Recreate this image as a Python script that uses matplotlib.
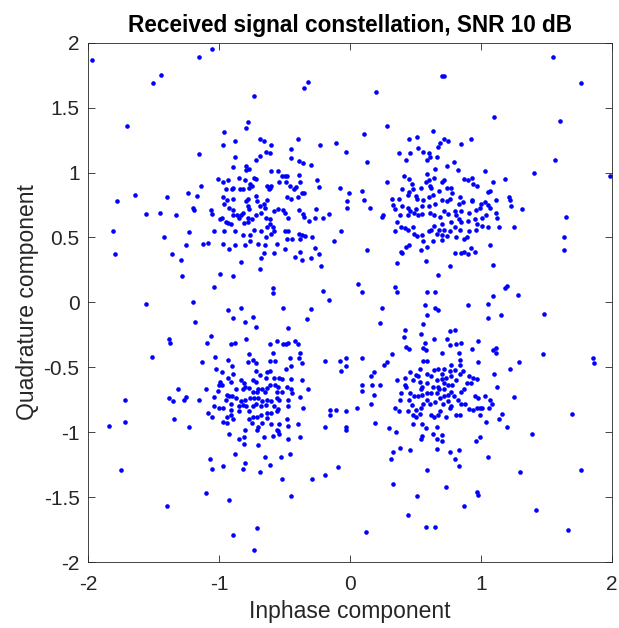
import matplotlib
matplotlib.use("Agg")
import matplotlib.pyplot as plt

plt.rcParams['font.family'] = ['Liberation Sans', 'DejaVu Sans']

# received symbols (inphase, quadrature)
# upper band, above the upper clusters
i_top = [-1.97, -1.15, -1.05, -1.50, -1.44, -0.32, -0.35, -0.73, -1.70, -0.78, -0.79, -0.96, -0.88,
         -0.97, -0.69, -0.66, -0.60, -0.40, -0.45, -0.23, -0.11, -0.03, -1.15, -0.88, -0.69, -0.72,
         -0.64, -0.61, -0.45, -0.39, -0.36,
         1.55, 0.70, 0.72, 1.76, 0.20, 1.10, 1.60, 0.28, 0.11, 0.63, 0.45, 0.51, 0.72, 0.75, 0.69,
         0.67, 0.92, 0.85, 0.37, 0.46, 0.52, 0.56, 0.60, 0.61, 0.59, 0.66, 0.13, 0.43, 0.79, 1.56]
q_top = [1.87, 1.89, 1.95, 1.69, 1.75, 1.70, 1.65, 1.59, 1.36, 1.39, 1.34, 1.31, 1.24,
         1.21, 1.26, 1.24, 1.21, 1.26, 1.18, 1.21, 1.23, 1.16, 1.14, 1.12, 1.13, 1.10,
         1.16, 1.15, 1.11, 1.09, 1.07,
         1.89, 1.74, 1.74, 1.69, 1.62, 1.43, 1.40, 1.36, 1.30, 1.32, 1.26, 1.27, 1.26, 1.24, 1.23,
         1.20, 1.26, 1.22, 1.15, 1.15, 1.19, 1.16, 1.15, 1.12, 1.10, 1.12, 1.08, 1.10, 1.08, 1.10]

# upper half: clusters around (-0.7, 0.7) and (0.7, 0.7)
i_upper = [-0.89, -0.79, -0.79, -0.77, -0.30, -1.01, -0.97, -0.93, -0.85, -0.80, -0.73, -0.72, -0.76,
           -0.77, -0.75, -0.89, -0.95, -0.90, -0.84, -0.82, -0.60, -0.55, -0.52, -0.50, -0.48, -0.54,
           -0.61, -0.62, -0.63, -0.60, -0.49, -0.46, -0.43, -0.41, -0.39, -0.38, -0.25, -0.24, -0.08,
           -0.02, -0.02, -1.14, -1.24, -1.17, -1.64, -1.78, -1.40, -1.56, -1.45, -1.33, -1.20, -1.19,
           -1.06, -1.05, -0.98, -0.99, -0.96, -0.97, -0.94, -0.89, -0.92, -0.89, -0.89, -0.86, -0.83,
           -0.82, -0.78, -0.79, -0.78, -0.77, -0.72, -0.71, -0.69, -0.66, -0.65, -0.63, -0.68, -0.72,
           -0.75, -0.78, -0.78, -0.81, -0.85, -0.91, -0.93, -0.95, -0.64, -0.61, -0.61, -0.63, -0.59,
           -0.58, -0.58, -0.55, -0.51, -0.50, -0.47, -0.45, -0.48, -0.40, -0.37, -0.35, -0.36, -0.35,
           -0.39, -0.26, -0.31, -0.27, -0.21, -0.16, -1.81, -1.79, -1.42, -1.36, -1.29, -1.25, -1.23,
           -1.12, -1.08, -1.04, -0.97, -0.96, -0.92, -0.88, -0.88, -0.82, -0.83, -0.80, -0.76, -0.76,
           -0.73, -0.70, -0.68, -0.68, -0.69, -0.65, -0.64, -0.66, -0.60, -0.56, -0.58, -0.50, -0.50,
           -0.48, -0.47, -0.44, -0.39, -0.38, -0.37, -0.34, -0.29, -0.42, -0.38, -0.37, -0.30, -0.27,
           -0.24, -0.22, -0.12, -0.07, -1.28, -0.99, -0.89, -1.04, -0.59, -0.59, -0.21, -0.16,
           0.65, 0.74, 0.82, 1.03, 1.40, 1.98, 0.59, 0.60, 0.58, 0.64, 0.41, 0.45, 0.28, 0.09, -0.01,
           0.11, 0.15, 0.25, 0.24, 0.47, 0.48, 0.40, 0.54, 0.61, 0.62, 0.70, 0.72, 0.74, 0.77, 0.78,
           0.68, 0.63, 0.60, 0.56, 0.50, 0.51, 0.45, 0.44, 0.37, 0.32, 0.33, 0.34, 0.40, 0.44, 0.46,
           0.50, 0.55, 0.60, 0.65, 0.70, 0.74, 0.76, 0.84, 0.83, 0.86, 0.93, 0.93, 0.96, 0.99, 1.00,
           1.03, 1.05, 1.11, 1.07, 1.11, 1.12, 1.21, 1.22, 1.23, 1.31, 0.87, 0.90, 0.93, 0.94, 0.97,
           1.09, 1.18, 1.07, 1.05, 0.38, 0.44, 0.49, 0.52, 0.55, 0.61, 0.64, 0.69, 0.72, 0.75, 0.80,
           0.81, 0.85, 0.91, 0.83, 0.85, 0.90, 0.95, 0.97, 1.01, 1.05, 1.14, 1.25, 1.04, 1.01, 0.36,
           0.39, 0.44, 0.42, 0.48, 0.34, 0.49, 0.51, 0.55, 0.60, 0.62, 0.64, 0.66, 0.68, 0.70, 0.70,
           0.72, 0.70, 0.74, 0.76, 0.77, 0.80, 0.84, 0.81, 0.87, 0.89, 0.91, 0.96, 0.56, 0.63, 0.59,
           0.45, 0.43, 0.39, 0.40, 0.54, 0.13, 0.36, 0.58, 0.76, 0.80, 0.85, 0.87, 0.90, 0.92, 0.95,
           1.07, 1.09, 1.63, 1.63, 1.65, 0.67, 0.06, 0.09, 0.34, 0.36, 0.59, 0.65, 1.18, 1.20, 1.28,
           1.09]
q_upper = [1.04, 1.05, 1.02, 1.03, 1.06, 0.95, 0.93, 0.94, 0.96, 0.94, 0.96, 0.95, 0.91,
           0.88, 0.90, 0.88, 0.87, 0.87, 0.87, 0.87, 1.01, 1.01, 0.97, 0.97, 0.97, 0.93,
           0.88, 0.87, 0.90, 0.90, 0.93, 0.90, 0.87, 0.89, 0.98, 0.93, 0.94, 0.89, 0.88,
           0.78, 0.73, 0.90, 0.84, 0.82, 0.83, 0.78, 0.81, 0.68, 0.69, 0.67, 0.73, 0.71,
           0.71, 0.68, 0.65, 0.64, 0.76, 0.81, 0.79, 0.80, 0.73, 0.71, 0.67, 0.67, 0.67,
           0.69, 0.80, 0.78, 0.74, 0.72, 0.82, 0.78, 0.74, 0.76, 0.73, 0.79, 0.69, 0.67,
           0.64, 0.62, 0.65, 0.61, 0.65, 0.60, 0.61, 0.62, 0.65, 0.64, 0.60, 0.58, 0.58,
           0.55, 0.70, 0.72, 0.71, 0.69, 0.65, 0.80, 0.81, 0.81, 0.84, 0.84, 0.68, 0.66,
           0.71, 0.72, 0.63, 0.65, 0.65, 0.68, 0.55, 0.37, 0.50, 0.37, 0.33, 0.44, 0.54,
           0.45, 0.46, 0.55, 0.45, 0.55, 0.41, 0.44, 0.55, 0.52, 0.31, 0.44, 0.47, 0.52,
           0.56, 0.45, 0.55, 0.34, 0.26, 0.44, 0.50, 0.38, 0.53, 0.45, 0.38, 0.55, 0.41,
           0.49, 0.55, 0.49, 0.53, 0.49, 0.52, 0.51, 0.50, 0.35, 0.39, 0.33, 0.34, 0.42,
           0.37, 0.28, 0.47, 0.55, 0.20, 0.22, 0.20, 0.12, 0.11, 0.07, 0.09, 0.02,
           1.03, 1.05, 1.02, 1.01, 1.00, 0.97, 0.99, 0.94, 0.93, 0.96, 0.97, 0.95, 0.93, 0.86, 0.84,
           0.79, 0.73, 0.67, 0.66, 0.91, 0.87, 0.87, 0.88, 0.90, 0.88, 0.93, 0.94, 0.88, 0.88, 0.84,
           0.86, 0.83, 0.81, 0.79, 0.82, 0.80, 0.85, 0.83, 0.80, 0.80, 0.75, 0.72, 0.74, 0.73, 0.70,
           0.72, 0.74, 0.74, 0.76, 0.79, 0.78, 0.80, 0.81, 0.76, 0.77, 0.79, 0.78, 0.71, 0.73, 0.76,
           0.77, 0.75, 0.79, 0.73, 0.69, 0.65, 0.81, 0.79, 0.74, 0.72, 0.95, 0.94, 0.96, 0.91, 0.90,
           0.93, 0.95, 0.86, 0.85, 0.67, 0.67, 0.69, 0.67, 0.68, 0.69, 0.67, 0.66, 0.70, 0.68, 0.70,
           0.67, 0.70, 0.69, 0.64, 0.62, 0.63, 0.64, 0.60, 0.59, 0.58, 0.58, 0.58, 0.67, 0.65, 0.62,
           0.58, 0.56, 0.57, 0.58, 0.55, 0.53, 0.51, 0.52, 0.55, 0.56, 0.59, 0.53, 0.56, 0.60, 0.52,
           0.56, 0.48, 0.51, 0.55, 0.62, 0.58, 0.56, 0.50, 0.49, 0.50, 0.55, 0.56, 0.47, 0.47, 0.43,
           0.44, 0.43, 0.39, 0.38, 0.40, 0.40, 0.30, 0.32, 0.28, 0.38, 0.38, 0.39, 0.37, 0.42, 0.39,
           0.44, 0.29, 0.50, 0.40, 0.66, 0.21, 0.14, 0.08, 0.12, 0.08, 0.08, 0.08, 0.11, 0.13, 0.06,
           0.05]

# lower half: clusters around (-0.7, -0.7) and (0.7, -0.7)
i_lower = [-1.56, -1.20, -0.93, -0.83, -0.89, -0.74, -0.80, -0.72, -1.18, -0.51, -0.30, -0.33, -0.47,
           -1.06, -1.09, -1.38, -1.37, -0.91, -0.88, -0.79, -0.77, -0.74, -0.72, -0.78, -0.93, -0.90,
           -1.03, -1.13, -0.61, -0.56, -0.51, -0.49, -0.47, -0.42, -0.40, -0.38, -0.46, -0.37, -0.39,
           -0.59, -0.61, -0.57, -0.49, -0.45, -0.19, -0.08, -0.03, -0.03, -0.07, -1.51, -1.02, -0.98,
           -0.89, -0.93, -0.72, -0.69, -0.74, -0.72, -0.64, -0.63, -0.61, -0.58, -0.54, -0.52, -0.45,
           -0.37, -0.91, -0.83, -0.81, -0.80, -0.99, -0.98, -1.00, -1.01, -1.10, -1.04, -0.94, -0.92,
           -0.90, -0.87, -0.82, -0.77, -0.74, -0.71, -0.70, -0.67, -0.65, -0.63, -0.61, -0.57, -0.55,
           -0.56, -0.52, -0.48, -0.45, -0.44, -0.32, -1.31, -1.38, -1.35, -1.27, -1.25, -1.15, -1.72,
           -0.95, -0.87, -0.83, -0.80, -0.76, -0.73, -0.70, -0.67, -0.63, -0.60, -0.56, -0.54, -0.47,
           -0.38, -0.91, -0.85, -0.82, -0.79, -0.74, -0.72, -0.68, -0.64, -0.58, -0.55, -0.47, -0.36,
           -1.04, -1.00, -0.97, -0.91, -1.08, -1.05, -0.85, -0.77, -0.74, -0.71, -0.68, -0.63, -0.60,
           -0.56, -0.63, -0.91, -0.94, -0.97, -0.94, -0.89, -0.77, -0.75, -0.67, -0.60, -0.54, -0.48,
           -0.40, -0.47, -0.19, -0.15, -0.11, -0.15, -0.03, -0.03, -0.03, -1.34, -1.72, -1.84, -1.23,
           -0.80, -0.71, -0.70, -0.56,
           0.24, 0.57, 0.65, 0.67, 0.90, 1.05, 0.23, 0.59, 1.15, 1.05, 1.48, 0.42, 0.56, 0.76, 0.80,
           0.41, 0.54, 0.64, 0.74, 0.76, 0.81, 0.85, 0.98, 0.57, 0.56, 0.58, 0.43, 0.45, 0.32, 0.28,
           0.26, 0.09, 0.70, 0.83, 0.93, 1.11, 1.09, 1.11, 1.47, 1.29, 1.85, 1.86, 0.56, 0.59, 0.77,
           0.84, 0.84, 0.98, 1.22, 0.72, 0.76, 0.70, 0.67, 0.64, 0.59, 0.62, 0.53, 0.52, 0.46, 0.42,
           0.36, 0.42, 0.48, 0.50, 0.53, 0.59, 0.55, 0.54, 0.66, 0.70, 0.73, 0.72, 0.77, 0.80, 0.86,
           0.84, 0.81, 0.78, 0.75, 0.72, 0.68, 0.67, 0.63, 0.62, 0.66, 0.59, 0.55, 0.52, 0.49, 0.46,
           0.43, 0.39, 0.38, 0.45, 0.47, 0.50, 0.54, 0.56, 0.59, 0.61, 0.65, 0.69, 0.72, 0.75, 0.77,
           0.79, 0.82, 0.85, 0.87, 0.89, 0.92, 0.94, 0.97, 0.91, 1.10, 1.12, 1.25, 0.95, 0.98, 1.03,
           1.07, 1.08, 1.06, 0.99, 1.01, 0.97, 0.94, 0.91, 0.88, 0.85, 0.77, 0.76, 0.75, 0.71, 0.69,
           0.67, 0.73, 0.81, 0.84, 0.62, 0.64, 0.53, 0.48, 0.50, 0.44, 0.37, 0.34, 0.18, 0.16, 0.23,
           0.17, 0.09, 0.09, 0.16, 0.18, 0.05, 0.99, 1.14, 1.16, 1.04, 1.20, 1.69, 0.48, 0.55, 0.58,
           0.66, 0.19, 0.30]
q_lower = [-0.01, 0.00, -0.06, -0.04, -0.12, -0.11, -0.15, -0.19, -0.15, -0.04, -0.05, -0.13, -0.20,
           -0.26, -0.31, -0.28, -0.31, -0.32, -0.31, -0.28, -0.40, -0.44, -0.47, -0.46, -0.44, -0.49,
           -0.42, -0.46, -0.32, -0.30, -0.32, -0.32, -0.31, -0.30, -0.32, -0.39, -0.43, -0.47, -0.43,
           -0.39, -0.45, -0.45, -0.51, -0.49, -0.45, -0.45, -0.43, -0.49, -0.53, -0.42, -0.51, -0.54,
           -0.55, -0.58, -0.53, -0.56, -0.60, -0.61, -0.58, -0.54, -0.53, -0.58, -0.58, -0.59, -0.59,
           -0.60, -0.61, -0.60, -0.62, -0.65, -0.61, -0.64, -0.64, -0.68, -0.67, -0.73, -0.71, -0.72,
           -0.72, -0.67, -0.67, -0.66, -0.69, -0.69, -0.67, -0.67, -0.69, -0.66, -0.64, -0.64, -0.65,
           -0.69, -0.69, -0.65, -0.67, -0.70, -0.67, -0.67, -0.74, -0.76, -0.75, -0.73, -0.75, -0.75,
           -0.75, -0.74, -0.76, -0.75, -0.74, -0.74, -0.74, -0.76, -0.75, -0.76, -0.74, -0.75, -0.75,
           -0.73, -0.78, -0.80, -0.79, -0.80, -0.80, -0.78, -0.80, -0.79, -0.80, -0.82, -0.80, -0.81,
           -0.80, -0.81, -0.81, -0.83, -0.85, -0.88, -0.84, -0.84, -0.88, -0.88, -0.87, -0.85, -0.85,
           -0.84, -0.89, -0.87, -0.88, -0.92, -0.93, -0.90, -0.90, -0.93, -0.93, -0.94, -0.94, -0.90,
           -0.94, -0.95, -0.96, -0.83, -0.83, -0.87, -0.96, -0.98, -0.84, -0.90, -0.92, -0.95, -0.96,
           -0.98, -0.98, -0.96, -0.98,
           -0.04, -0.02, -0.04, -0.06, -0.02, -0.01, -0.16, -0.10, -0.10, -0.12, -0.09, -0.21, -0.17, -0.22, -0.21,
           -0.27, -0.24, -0.28, -0.28, -0.33, -0.32, -0.31, -0.30, -0.31, -0.35, -0.37, -0.34, -0.36, -0.40, -0.46,
           -0.48, -0.43, -0.39, -0.39, -0.36, -0.35, -0.37, -0.39, -0.40, -0.46, -0.43, -0.47, -0.45, -0.45, -0.48,
           -0.44, -0.48, -0.46, -0.51, -0.51, -0.53, -0.55, -0.51, -0.52, -0.55, -0.57, -0.51, -0.57, -0.54, -0.58,
           -0.60, -0.64, -0.60, -0.56, -0.61, -0.62, -0.65, -0.67, -0.60, -0.59, -0.58, -0.62, -0.57, -0.52, -0.53,
           -0.55, -0.60, -0.64, -0.64, -0.67, -0.67, -0.65, -0.65, -0.70, -0.70, -0.70, -0.71, -0.72, -0.72, -0.70,
           -0.65, -0.70, -0.75, -0.75, -0.79, -0.83, -0.81, -0.78, -0.75, -0.78, -0.77, -0.74, -0.72, -0.71, -0.69,
           -0.72, -0.75, -0.69, -0.67, -0.62, -0.62, -0.58, -0.59, -0.57, -0.55, -0.65, -0.73, -0.72, -0.74, -0.72,
           -0.75, -0.78, -0.81, -0.81, -0.81, -0.81, -0.83, -0.82, -0.78, -0.78, -0.80, -0.81, -0.76, -0.78, -0.84,
           -0.87, -0.88, -0.87, -0.87, -0.87, -0.88, -0.86, -0.87, -0.88, -0.84, -0.84, -0.81, -0.71, -0.78, -0.64,
           -0.64, -0.64, -0.68, -0.57, -0.54, -0.81, -0.87, -0.90, -0.86, -0.92, -0.96, -0.86, -0.94, -0.94, -0.97,
           -0.96, -0.93, -0.97]

# lower band, below the lower clusters
i_bottom = [-0.92, -0.85, -0.81, -0.81, -0.70, -0.66, -0.59, -0.55, -0.54, -0.47, -0.38, -0.88, -1.07,
            -0.97, -1.05, -0.82, -0.80, -0.65, -0.53, -0.46, -0.61, -0.69, -0.52, -0.29, -0.19, -0.09,
            -1.75, -1.10, -0.92, -0.45, -1.40, -0.71, -0.89, -0.73,
            0.35, 0.55, 0.54, 0.63, 0.70, 0.66, 0.70, 0.96, 0.99, 1.39, 0.38, 0.33, 0.31, 0.46, 0.66,
            0.76, 0.83, 0.80, 0.83, 1.05, 0.59, 1.30, 1.76, 0.33, 0.73, 0.97, 0.98, 0.51, 0.87, 1.42,
            0.44, 0.58, 0.65, 0.12, 1.66]
q_bottom = [-1.01, -1.05, -1.04, -1.09, -1.10, -1.04, -1.03, -0.99, -1.01, -1.05, -1.04, -1.17, -1.21,
            -1.26, -1.28, -1.28, -1.24, -1.19, -1.19, -1.17, -1.25, -1.31, -1.36, -1.36, -1.33, -1.27,
            -1.29, -1.47, -1.52, -1.49, -1.57, -1.74, -1.79, -1.91,
            -1.00, -1.03, -1.05, -1.01, -1.02, -1.05, -1.07, -1.07, -1.04, -1.01, -1.12, -1.15, -1.21,
            -1.14, -1.13, -1.15, -1.14, -1.21, -1.26, -1.19, -1.29, -1.31, -1.29, -1.40, -1.42, -1.46,
            -1.48, -1.49, -1.57, -1.60, -1.64, -1.73, -1.73, -1.77, -1.75]

fig = plt.figure(figsize=(6.19, 6.28), dpi=100)
ax = fig.add_axes([0.142, 0.105, 0.847, 0.827])

for xi, yq in [(i_top, q_top), (i_upper, q_upper), (i_lower, q_lower), (i_bottom, q_bottom)]:
    ax.plot(xi, yq, 'o', color='#0000ff', markersize=3.3, markeredgewidth=0)

ax.set_xlim(-2, 2)
ax.set_ylim(-2, 2)
ax.set_xticks([-2, -1, 0, 1, 2])
ax.set_yticks([-2, -1.5, -1, -0.5, 0, 0.5, 1, 1.5, 2])
ax.set_yticklabels(['-2', '-1.5', '-1', '-0.5', '0', '0.5', '1', '1.5', '2'])
ax.set_xticklabels(['-2', '-1', '0', '1', '2'])
ax.tick_params(direction='in', top=True, right=True, length=5, width=0.6,
               labelsize=15, colors='#262626')
ax.tick_params(axis='x', pad=9.5)
ax.tick_params(axis='y', pad=6)
for s in ax.spines.values():
    s.set_linewidth(0.6)
    s.set_color('#262626')

ax.set_title('Received signal constellation, SNR 10 dB', fontsize=16.3, fontweight='bold', pad=8)
ax.set_xlabel('Inphase component', fontsize=16.5, color='#262626', labelpad=4)
ax.set_ylabel('Quadrature component', fontsize=16.5, color='#262626', labelpad=3)

fig.savefig('out.png', dpi=100)
